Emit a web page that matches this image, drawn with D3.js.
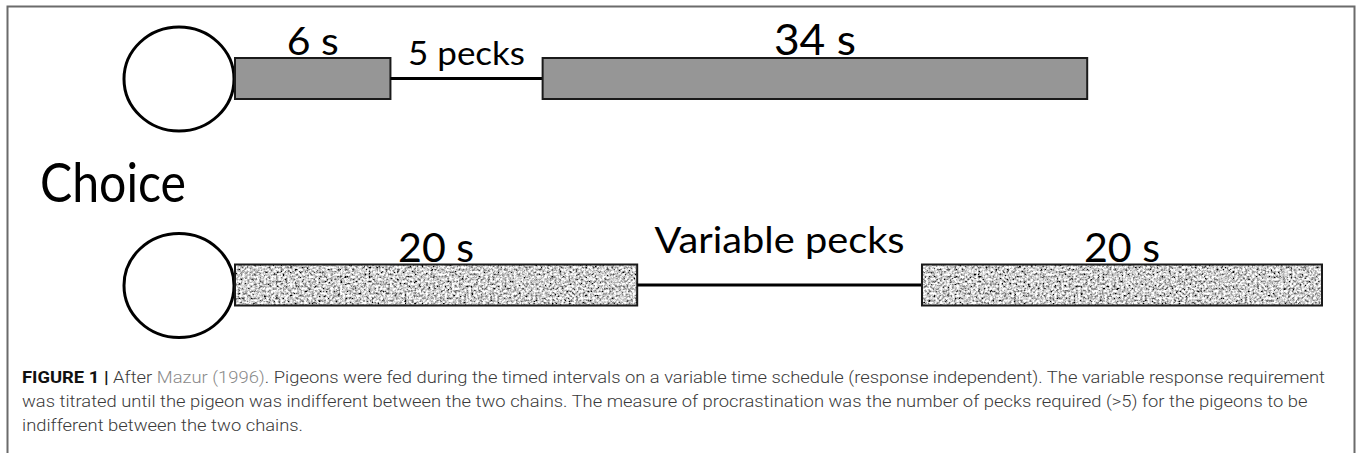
<!DOCTYPE html>
<html>
<head>
<meta charset="utf-8">
<script src="https://cdn.jsdelivr.net/npm/d3@7"></script>
<style>
  html, body { margin: 0; padding: 0; background: #fff; }
  svg { display: block; }
</style>
</head>
<body>
<svg id="chart" width="1358" height="453"></svg>
<script>
// ---- data (schematic units along the chain) ----
const topSegments    = ["bar", "line", "bar"];
const topStarts      = [0, 14.3, 28.3];
const topEnds        = [14.3, 28.3, 78.4];
const topLabels      = ["6 s", "5 pecks", "34 s"];

const bottomSegments = ["noise", "line", "noise"];
const bottomStarts   = [0, 37.0, 63.2];
const bottomEnds     = [37.0, 63.2, 100];
const bottomLabels   = ["20 s", "Variable pecks", "20 s"];

const choiceLabel = "Choice";
const captionLines = [
  [["FIGURE 1 | ", "b"], ["After ", "n"], ["Mazur (1996)", "l"], [". Pigeons were fed during the timed intervals on a variable time schedule (response independent). The variable response requirement", "n"]],
  [["was titrated until the pigeon was indifferent between the two chains. The measure of procrastination was the number of pecks required (>5) for the pigeons to be", "n"]],
  [["indifferent between the two chains.", "n"]]
];

// ---- layout ----
const svg = d3.select("#chart");
const x = d3.scaleLinear().domain([0, 100]).range([235, 1322]);
const rows = [
  {segs: topSegments, starts: topStarts, ends: topEnds, labels: topLabels, cy: 78.5,
   labelY: [55, 65, 55], labelSize: [39, 33, 42], labelW: [52, 117, 82]},
  {segs: bottomSegments, starts: bottomStarts, ends: bottomEnds, labels: bottomLabels, cy: 285,
   labelY: [262, 253, 262], labelSize: [41, 36, 41], labelW: [76, 250, 76]}
];
const barH = 41;

// noise filter
const defs = svg.append("defs");
const f = defs.append("filter").attr("id", "noise")
  .attr("x", 0).attr("y", 0).attr("width", 1).attr("height", 1)
  .attr("filterUnits", "objectBoundingBox");
f.append("feTurbulence").attr("type", "fractalNoise").attr("baseFrequency", 0.42)
  .attr("numOctaves", 4).attr("seed", 11).attr("result", "t");
f.append("feColorMatrix").attr("type", "matrix")
  .attr("values", "2.2 0 0 0 -0.48  2.2 0 0 0 -0.48  2.2 0 0 0 -0.48  0 0 0 0 1");

// frame
svg.append("path")
  .attr("d", "M7.5,453 V6.5 H1354.5 V453")
  .attr("fill", "none").attr("stroke", "#6b6b6b").attr("stroke-width", 2);

rows.forEach(r => {
  svg.append("ellipse")
    .attr("cx", x(0) - 56).attr("cy", r.cy + 0.5)
    .attr("rx", 55).attr("ry", 52)
    .attr("fill", "#fff").attr("stroke", "#000").attr("stroke-width", 3);

  r.segs.forEach((s, i) => {
    const x0 = x(r.starts[i]), x1 = x(r.ends[i]);
    if (s === "line") {
      svg.append("line").attr("x1", x0).attr("x2", x1)
        .attr("y1", r.cy).attr("y2", r.cy)
        .attr("stroke", "#000").attr("stroke-width", 3);
    } else {
      const rect = svg.append("rect").attr("x", x0).attr("y", r.cy - barH / 2)
        .attr("width", x1 - x0).attr("height", barH);
      if (s === "noise") {
        rect.attr("fill", "#a8a8a8").attr("filter", "url(#noise)");
        svg.append("rect").attr("x", x0).attr("y", r.cy - barH / 2)
          .attr("width", x1 - x0).attr("height", barH)
          .attr("fill", "none").attr("stroke", "#1a1a1a").attr("stroke-width", 2);
      } else {
        rect.attr("fill", "#969696").attr("stroke", "#1a1a1a").attr("stroke-width", 2);
      }
    }
    svg.append("text")
      .attr("x", (x0 + x1) / 2).attr("y", r.labelY[i])
      .attr("text-anchor", "middle")
      .attr("font-family", "Lato, 'Open Sans', sans-serif")
      .attr("font-size", r.labelSize[i])
      .attr("textLength", r.labelW[i]).attr("lengthAdjust", "spacingAndGlyphs")
      .attr("fill", "#000")
      .text(r.labels[i]);
  });
});

svg.append("text").attr("x", 40).attr("y", 202)
  .attr("font-family", "Lato, 'Open Sans', sans-serif").attr("font-size", 54)
  .attr("textLength", 146).attr("lengthAdjust", "spacingAndGlyphs")
  .attr("fill", "#000").text(choiceLabel);

// caption
const capY = [383, 407, 431];
const capTexts = captionLines.map((line, i) => {
  const t = svg.append("text").attr("x", 22).attr("y", capY[i])
    .attr("font-family", "Roboto, 'Liberation Sans', sans-serif")
    .attr("font-size", 16.5).attr("font-weight", 300).attr("fill", "#3a3a3a");
  line.forEach(([txt, k]) => {
    t.append("tspan").text(txt)
      .attr("font-weight", k === "b" ? "bold" : 300)
      .attr("fill", k === "l" ? "#8a8a8a" : (k === "b" ? "#111" : "#3a3a3a"));
  });
  return t;
});
const ratio = 1303 / capTexts[0].node().getComputedTextLength();
capTexts.forEach(t => {
  const w = t.node().getComputedTextLength() * ratio;
  t.attr("textLength", w).attr("lengthAdjust", "spacingAndGlyphs");
});
</script>
</body>
</html>
